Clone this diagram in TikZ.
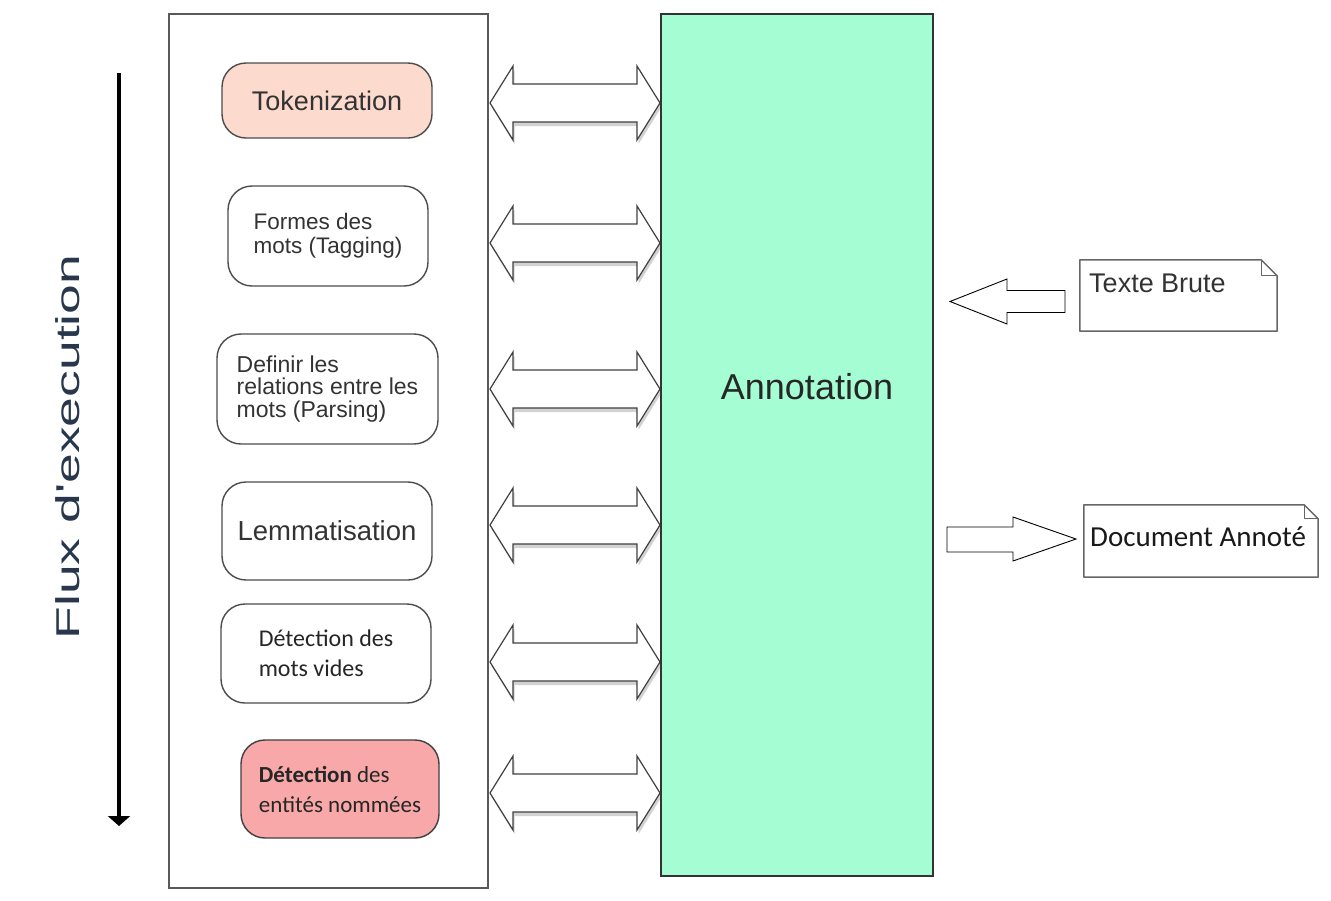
\documentclass[tikz,border=0pt]{standalone}
\usepackage{fontspec}
\setmainfont{Liberation Sans}
\newfontfamily\calib{Carlito}
\newfontfamily\fluxfont{Liberation Sans}
\usetikzlibrary{shadows,arrows.meta,calc}
\definecolor{mint}{RGB}{165,253,212}
\definecolor{peach}{RGB}{252,218,206}
\definecolor{rosebox}{RGB}{248,168,168}
\definecolor{txtgray}{RGB}{51,51,51}
\definecolor{fluxcol}{RGB}{40,55,75}
\begin{document}
\begin{tikzpicture}[x=1pt,y=-1pt,
  stagebox/.style={draw=black!70, line width=1.4pt, rounded corners=24pt, align=left, text=txtgray, inner sep=0pt},
  arrowbody/.style={draw=black!75, line width=1.2pt, fill=white, line join=miter,
     drop shadow={shadow xshift=1.5pt, shadow yshift=-4pt, opacity=0.25, fill=black!70}},
  sarrow/.style={draw=black, line width=0.9pt, fill=white},
  notebox/.style={draw=black!60, line width=1.5pt, fill=white, line join=round},
  pics/dbl/.style={code={
    \draw[arrowbody] (-85,0) -- (-62,-37) -- (-62,-19) -- (62,-19) -- (62,-37) -- (85,0)
      -- (62,37) -- (62,19) -- (-62,19) -- (-62,37) -- cycle;}}
]
\useasboundingbox[fill=white] (0,0) rectangle (1331,900);

% containers
\node[draw=black!65, line width=1.5pt, minimum width=319pt, minimum height=874pt, inner sep=0pt] (L) at (328.5,451) {};
\node[draw=black!80, line width=1.8pt, fill=mint, minimum width=272pt, minimum height=862pt, inner sep=0pt] (A) at (797,445) {};
\node[text=black!85, font=\fontsize{36}{40}\selectfont] (annot) at (807,387) {Annotation};

% flow arrow
\coordinate (ftop) at (119,73);
\coordinate (fbot) at (119,826);
\draw[line width=4pt, -{Triangle[width=22pt,length=10pt]}] (ftop) -- (fbot);
\node[rotate=90, text=fluxcol, inner sep=0pt] (flux) at (68,447)
  {\scalebox{1.62}[1]{\fluxfont\fontsize{33}{33}\selectfont Flux d'execution}};

% stages
\node[stagebox, fill=peach, minimum width=210pt, minimum height=75pt,
  font=\fontsize{27}{28}\selectfont] (s1) at (327,100.5) {Tokenization};
\node[stagebox, fill=white, minimum width=200pt, minimum height=100pt,
  font=\fontsize{22.5}{24}\selectfont] (s2) at (328,236) {Formes des\\mots (Tagging)};
\node[stagebox, fill=white, minimum width=221pt, minimum height=110pt,
  font=\fontsize{23}{22.5}\selectfont] (s3) at (327.5,389) {Definir les\\relations entre les\\mots (Parsing)};
\node[stagebox, fill=white, minimum width=210pt, minimum height=98pt,
  font=\fontsize{27.5}{28}\selectfont] (s4) at (327,531) {Lemmatisation};
\node[stagebox, fill=white, minimum width=210pt, minimum height=99pt,
  font=\calib\fontsize{24}{30}\selectfont, text=black!85] (s5) at (326,653.5) {D\'etection des\\mots vides};
\node[stagebox, fill=rosebox, minimum width=198pt, minimum height=98pt, draw=black!75,
  font=\calib\fontsize{23}{30}\selectfont, text=black!85] (s6) at (340,789) {\textbf{D\'etection} des\\entit\'es nomm\'ees};

% double arrows between stages and annotation
\foreach \yy/\nm in {103/d1,243/d2,389/d3,525/d4,662/d5,793/d6}
  \pic (\nm) at (575,\yy) {dbl};

% notes
\node[minimum width=197pt, minimum height=71pt, inner sep=0pt] (tb) at (1178.5,295.5) {};
\draw[notebox] (tb.north west) -- ($(tb.north east)+(-16,0)$) -- ($(tb.north east)+(0,16)$)
  -- (tb.south east) -- (tb.south west) -- cycle;
\draw[notebox, fill=none, line width=1pt] ($(tb.north east)+(-16,0)$) -- ($(tb.north east)+(-16,16)$) -- ($(tb.north east)+(0,16)$);
\node[anchor=base west, text=txtgray, font=\fontsize{27}{28}\selectfont, inner sep=0pt] (tbt) at (1089,292) {Texte Brute};

\node[minimum width=234pt, minimum height=72pt, inner sep=0pt] (doc) at (1201,541) {};
\draw[notebox] (doc.north west) -- ($(doc.north east)+(-14,0)$) -- ($(doc.north east)+(0,14)$)
  -- (doc.south east) -- (doc.south west) -- cycle;
\draw[notebox, fill=none, line width=1pt] ($(doc.north east)+(-14,0)$) -- ($(doc.north east)+(-14,14)$) -- ($(doc.north east)+(0,14)$);
\node[anchor=base west, text=black!90, font=\calib\fontsize{29}{30}\selectfont, inner sep=0pt] (doct) at (1090,546) {Document Annot\'e};

% input / output arrows
\draw[sarrow] (950,301.5) -- (1007,279) -- (1007,290.5) -- (1065,290.5) -- (1065,312.5)
  -- (1007,312.5) -- (1007,324) -- cycle;
\draw[sarrow] (947,527) -- (1013,527) -- (1013,517) -- (1076,539) -- (1013,561)
  -- (1013,552) -- (947,552) -- cycle;
\end{tikzpicture}
\end{document}
